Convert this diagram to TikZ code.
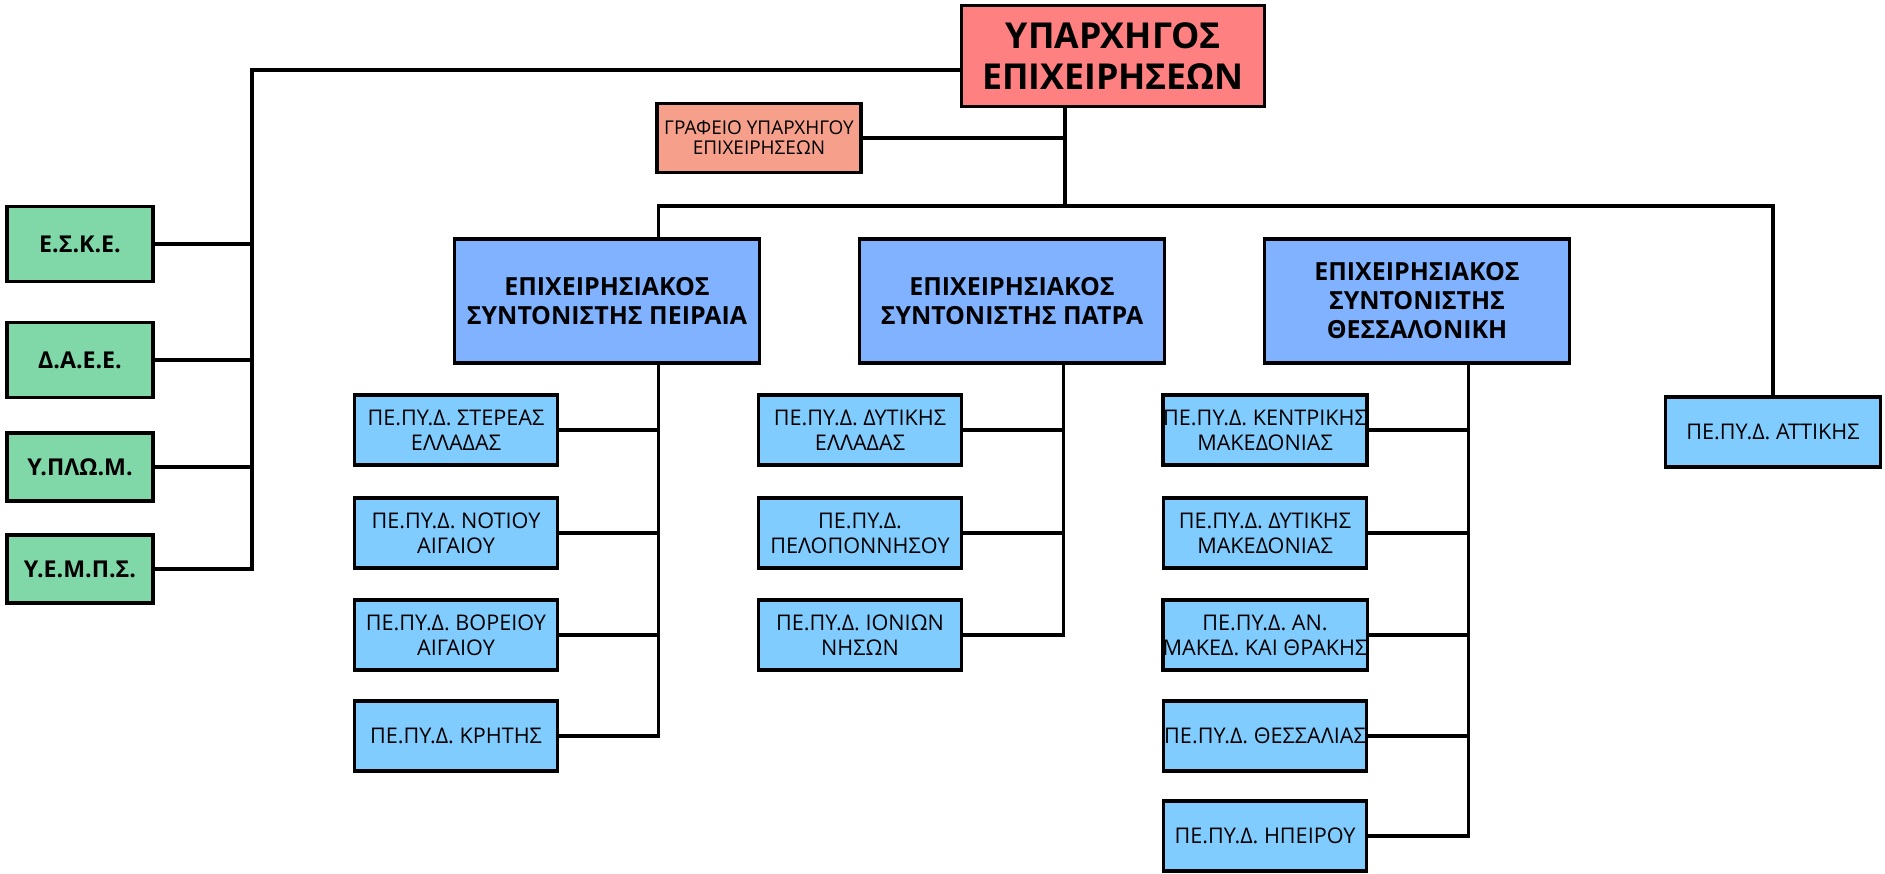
\documentclass[tikz,border=0pt]{standalone}
\usepackage{fontspec}
\setmainfont{Open Sans}
\usepackage{tikz}
\usetikzlibrary{calc}
\definecolor{rosso}{RGB}{255,128,128}
\definecolor{salmone}{RGB}{246,160,140}
\definecolor{verde}{RGB}{128,216,168}
\definecolor{blu}{RGB}{128,178,255}
\definecolor{azzurro}{RGB}{128,204,255}
\tikzstyle{ypa} = [rectangle, draw=black, line width=2.1pt, fill=rosso, minimum width=6.06cm, minimum height=2.02cm, inner sep=0pt, align=center, font=\bfseries\fontsize{20.3}{23}\selectfont]
\tikzstyle{grafeio} = [rectangle, draw=black, line width=2.1pt, fill=salmone, minimum width=4.08cm, minimum height=1.38cm, inner sep=0pt, align=center, font=\fontsize{10.8}{11.5}\selectfont]
\tikzstyle{ypiresia} = [rectangle, draw=black, line width=2.1pt, fill=verde, minimum width=2.92cm, minimum height=1.5cm, inner sep=0pt, align=center, font=\bfseries\fontsize{13.2}{15}\selectfont]
\tikzstyle{syntonistis} = [rectangle, draw=black, line width=2.1pt, fill=blu, minimum width=6.1cm, minimum height=2.48cm, inner sep=0pt, align=center, font=\bfseries\fontsize{14.2}{16.5}\selectfont]
\tikzstyle{pepyd} = [rectangle, draw=black, line width=2.1pt, fill=azzurro, minimum width=4.06cm, minimum height=1.4cm, inner sep=0pt, align=center, font=\fontsize{12.3}{14.2}\selectfont]
\tikzstyle{grammi} = [line width=2pt]
\tikzstyle{leptη} = [line width=0.8pt]

\begin{document}
\begin{tikzpicture}[x=0.02cm,y=-0.02cm]
\useasboundingbox (0,0) rectangle (1885,873);
\node at (1113,56) [ypa] (ypa) {ΥΠΑΡΧΗΓΟΣ\\ΕΠΙΧΕΙΡΗΣΕΩΝ};
\node at (759,138) [grafeio] (grafeio) {ΓΡΑΦΕΙΟ ΥΠΑΡΧΗΓΟΥ\\ΕΠΙΧΕΙΡΗΣΕΩΝ};
\node at (80,244) [ypiresia] (eske) {Ε.Σ.Κ.Ε.};
\node at (80,360) [ypiresia] (daee) {Δ.Α.Ε.Ε.};
\node at (80,467) [ypiresia, minimum height=1.36cm] (yplom) {Υ.ΠΛΩ.Μ.};
\node at (80,569) [ypiresia, minimum height=1.36cm] (yemps) {Υ.Ε.Μ.Π.Σ.};
\node at (607,301) [syntonistis] (peir) {ΕΠΙΧΕΙΡΗΣΙΑΚΟΣ\\ΣΥΝΤΟΝΙΣΤΗΣ ΠΕΙΡΑΙΑ};
\node at (1012,301) [syntonistis] (patr) {ΕΠΙΧΕΙΡΗΣΙΑΚΟΣ\\ΣΥΝΤΟΝΙΣΤΗΣ ΠΑΤΡΑ};
\node at (1417,301) [syntonistis] (thes) {ΕΠΙΧΕΙΡΗΣΙΑΚΟΣ\\ΣΥΝΤΟΝΙΣΤΗΣ\\ΘΕΣΣΑΛΟΝΙΚΗ};
\node at (456,430) [pepyd] (stel) {ΠΕ.ΠΥ.Δ. ΣΤΕΡΕΑΣ\\ΕΛΛΑΔΑΣ};
\node at (456,533) [pepyd] (naig) {ΠΕ.ΠΥ.Δ. ΝΟΤΙΟΥ\\ΑΙΓΑΙΟΥ};
\node at (456,635) [pepyd] (vaig) {ΠΕ.ΠΥ.Δ. ΒΟΡΕΙΟΥ\\ΑΙΓΑΙΟΥ};
\node at (456,736) [pepyd] (krit) {ΠΕ.ΠΥ.Δ. ΚΡΗΤΗΣ};
\node at (860,430) [pepyd] (dell) {ΠΕ.ΠΥ.Δ. ΔΥΤΙΚΗΣ\\ΕΛΛΑΔΑΣ};
\node at (860,533) [pepyd] (pelo) {ΠΕ.ΠΥ.Δ.\\ΠΕΛΟΠΟΝΝΗΣΟΥ};
\node at (860,635) [pepyd] (ioni) {ΠΕ.ΠΥ.Δ. ΙΟΝΙΩΝ\\ΝΗΣΩΝ};
\node at (1265,430) [pepyd] (kmak) {ΠΕ.ΠΥ.Δ. ΚΕΝΤΡΙΚΗΣ\\ΜΑΚΕΔΟΝΙΑΣ};
\node at (1265,533) [pepyd] (dmak) {ΠΕ.ΠΥ.Δ. ΔΥΤΙΚΗΣ\\ΜΑΚΕΔΟΝΙΑΣ};
\node at (1265,635) [pepyd] (amth) {ΠΕ.ΠΥ.Δ. ΑΝ.\\ΜΑΚΕΔ. ΚΑΙ ΘΡΑΚΗΣ};
\node at (1265,736) [pepyd] (thss) {ΠΕ.ΠΥ.Δ. ΘΕΣΣΑΛΙΑΣ};
\node at (1265,836) [pepyd] (ipei) {ΠΕ.ΠΥ.Δ. ΗΠΕΙΡΟΥ};
\node at (1773,432) [pepyd, minimum width=4.3cm] (atti) {ΠΕ.ΠΥ.Δ. ΑΤΤΙΚΗΣ};
\coordinate (kormos) at (1065,206);
\coordinate (aristera) at (252,70);
\coordinate (peirk) at ($(peir.south west)!2/3!(peir.south east)$);
\coordinate (patrk) at ($(patr.south west)!2/3!(patr.south east)$);
\coordinate (thesk) at ($(thes.south west)!2/3!(thes.south east)$);
\draw [grammi] (kormos |- ypa.south) -- (kormos);
\draw [grammi] (grafeio.east) -- (grafeio.east -| kormos);
\draw [grammi] ($(peir.north west)!2/3!(peir.north east)$) |- (atti.north |- kormos) -- (atti.north);
\draw [grammi] ($(patr.north west)!1/3!(patr.north east)$) -- ($(patr.north west)!1/3!(patr.north east)$ |- kormos);
\draw [leptη] ($(thes.north west)!1/3!(thes.north east)$) -- ($(thes.north west)!1/3!(thes.north east)$ |- kormos);
\draw [grammi] (ypa.west |- aristera) -- (aristera) |- (yemps.east);
\foreach \s in {eske,daee,yplom}
	\draw [grammi] (\s.east) -- (\s.east -| aristera);
\draw [grammi] (peirk) |- (krit.east);
\foreach \p in {stel,naig,vaig}
	\draw [grammi] (\p.east) -- (\p.east -| peirk);
\draw [grammi] (patrk) |- (ioni.east);
\foreach \p in {dell,pelo}
	\draw [grammi] (\p.east) -- (\p.east -| patrk);
\draw [grammi] (thesk) |- (ipei.east);
\foreach \p in {kmak,dmak,amth,thss}
	\draw [grammi] (\p.east) -- (\p.east -| thesk);
\end{tikzpicture}
\end{document}
